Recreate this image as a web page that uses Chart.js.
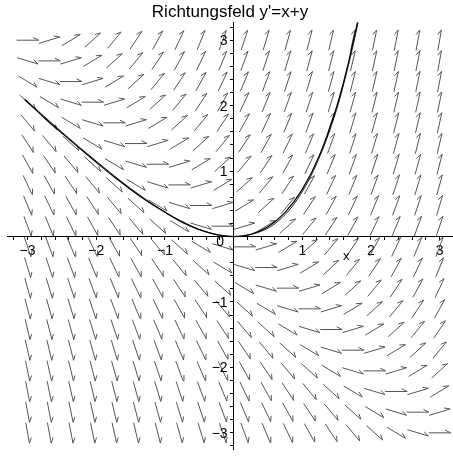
<!DOCTYPE html>
<html lang="de">
<head>
    <meta charset="UTF-8">
    <script src="https://cdn.jsdelivr.net/npm/chart.js@4.4.1/dist/chart.umd.min.js"></script>
    <title>Richtungsfeld</title>
    <style>
        body { margin: 0; background: #fff; }
        #wrap { width: 453px; height: 461px; }
    </style>
</head>
<body>
    <div id="wrap"><canvas id="chart"></canvas></div>

    <script>
        // grid of the direction field (20 x 20 points)
        const gridX = [-3, -2.684, -2.368, -2.053, -1.737, -1.421, -1.105, -0.789, -0.474, -0.158,
                       0.158, 0.474, 0.789, 1.105, 1.421, 1.737, 2.053, 2.368, 2.684, 3];
        const gridY = [-3, -2.684, -2.368, -2.053, -1.737, -1.421, -1.105, -0.789, -0.474, -0.158,
                       0.158, 0.474, 0.789, 1.105, 1.421, 1.737, 2.053, 2.368, 2.684, 3];

        // solution curves
        const curve1X = [-3.04, -2.75, -2.5, -2.25, -2, -1.75, -1.5, -1.25, -1, -0.75, -0.5, -0.25, 0,
                         0.25, 0.5, 0.75, 1, 1.25, 1.5, 1.65, 1.82];
        const curve1Y = [2.09, 1.81, 1.58, 1.355, 1.135, 0.92, 0.72, 0.535, 0.37, 0.22, 0.105, 0.03, 0,
                         0.035, 0.15, 0.37, 0.72, 1.24, 1.98, 2.56, 3.35];
        const curve2X = [-3.04, -2.5, -2, -1.5, -1, -0.5, -0.2, 0, 0.3, 0.6, 0.9, 1.2, 1.5, 1.7, 1.83];
        const curve2Y = [2.1, 1.595, 1.15, 0.735, 0.375, 0.108, 0.02, 0, 0.045, 0.195, 0.525, 1.09, 1.94, 2.74, 3.35];

        const xLabels = [-3, -2, -1, 1, 2, 3];
        const yLabels = [-3, -2, -1, 1, 2, 3];

        const title = "Richtungsfeld y'=x+y";
        const font = "'Liberation Sans', Arial, sans-serif";

        // arrows: slope of y' = x + y at each grid point, all the same length
        const arrowLen = 0.32;
        const barbLen = 0.09;
        const barbAng = 28 * Math.PI / 180;
        const arrowPts = [];
        for (const gx of gridX) {
            for (const gy of gridY) {
                const s = gx + gy;
                const n = Math.sqrt(1 + s * s);
                const ux = 1 / n, uy = s / n;
                const tipX = gx + ux * arrowLen / 2, tipY = gy + uy * arrowLen / 2;
                // single barb on the left side of the arrow
                const bx = tipX + barbLen * (-ux * Math.cos(barbAng) - uy * Math.sin(barbAng));
                const by = tipY + barbLen * (-uy * Math.cos(barbAng) + ux * Math.sin(barbAng));
                arrowPts.push({x: gx - ux * arrowLen / 2, y: gy - uy * arrowLen / 2});
                arrowPts.push({x: tipX, y: tipY});
                arrowPts.push({x: bx, y: by});
                arrowPts.push({x: gx, y: null});
            }
        }

        const toPts = (xs, ys) => xs.map((x, i) => ({x: x, y: ys[i]}));

        function isInt(v) { return Math.abs(v - Math.round(v)) < 1e-6; }
        function fmt(v) {
            const r = Math.round(v);
            return r < 0 ? '\u2212' + (-r) : String(r);
        }

        // y tick labels, "0" at the origin and the "x" axis name
        const extraText = {
            id: 'extraText',
            afterDraw(chart) {
                const ctx = chart.ctx;
                const sx = chart.scales.x, sy = chart.scales.y;
                const ox = sx.getPixelForValue(0), oy = sy.getPixelForValue(0);
                ctx.save();
                ctx.fillStyle = '#000';
                ctx.font = '14px ' + font;
                ctx.textBaseline = 'middle';
                ctx.textAlign = 'right';
                for (const v of yLabels) {
                    ctx.fillText(fmt(v), ox - 6, sy.getPixelForValue(v) + 1);
                }
                ctx.textAlign = 'center';
                ctx.fillText('0', ox - 13.5, oy + 6);
                ctx.font = '13px ' + font;
                ctx.fillText('x', sx.getPixelForValue(1.64), sy.getPixelForValue(-0.3));
                ctx.restore();
            }
        };

        const ctx = document.getElementById('chart').getContext('2d');
        const myChart = new Chart(ctx, {
            type: 'scatter',
            data: {
                datasets: [
                    {
                        data: toPts(curve1X, curve1Y),
                        showLine: true, borderColor: '#000', borderWidth: 1.2,
                        pointRadius: 0, cubicInterpolationMode: 'monotone', order: 1
                    },
                    {
                        data: toPts(curve2X, curve2Y),
                        showLine: true, borderColor: '#222', borderWidth: 1,
                        pointRadius: 0, cubicInterpolationMode: 'monotone', order: 1
                    },
                    {
                        data: arrowPts,
                        showLine: true, spanGaps: false, borderColor: '#555', borderWidth: 1,
                        pointRadius: 0, tension: 0, order: 2
                    }
                ]
            },
            options: {
                responsive: true,
                maintainAspectRatio: false,
                animation: false,
                events: [],
                layout: { autoPadding: false, padding: {left: 7, right: 0, top: 0, bottom: 3} },
                plugins: {
                    legend: { display: false },
                    tooltip: { enabled: false },
                    title: {
                        display: true, text: title, color: '#000',
                        font: {family: font, size: 17, weight: 'normal', lineHeight: 1.15},
                        padding: {top: 3, bottom: 0}
                    }
                },
                scales: {
                    x: {
                        type: 'linear', min: -3.3, max: 3.195,
                        position: {y: 0},
                        afterFit: s => { s.height = 0; },
                        border: {display: true, color: '#000', width: 1},
                        grid: {drawOnChartArea: false, drawTicks: true, tickLength: 3, color: '#000'},
                        ticks: {
                            stepSize: 0.2, includeBounds: false, autoSkip: false, maxRotation: 0,
                            color: '#000', padding: 3, font: {family: font, size: 14},
                            callback: v => (isInt(v) && xLabels.includes(Math.round(v))) ? fmt(v) : ''
                        }
                    },
                    y: {
                        type: 'linear', min: -3.256, max: 3.27,
                        position: {x: 0},
                        afterFit: s => { s.width = 0; },
                        border: {display: true, color: '#000', width: 1},
                        grid: {drawOnChartArea: false, drawTicks: true, tickLength: 3, color: '#000'},
                        ticks: {
                            stepSize: 0.2, includeBounds: false, autoSkip: false,
                            display: true, color: 'rgba(0,0,0,0)', font: {family: font, size: 14},
                            callback: () => ''
                        }
                    }
                }
            },
            plugins: [extraText]
        });
    </script>
</body>
</html>
